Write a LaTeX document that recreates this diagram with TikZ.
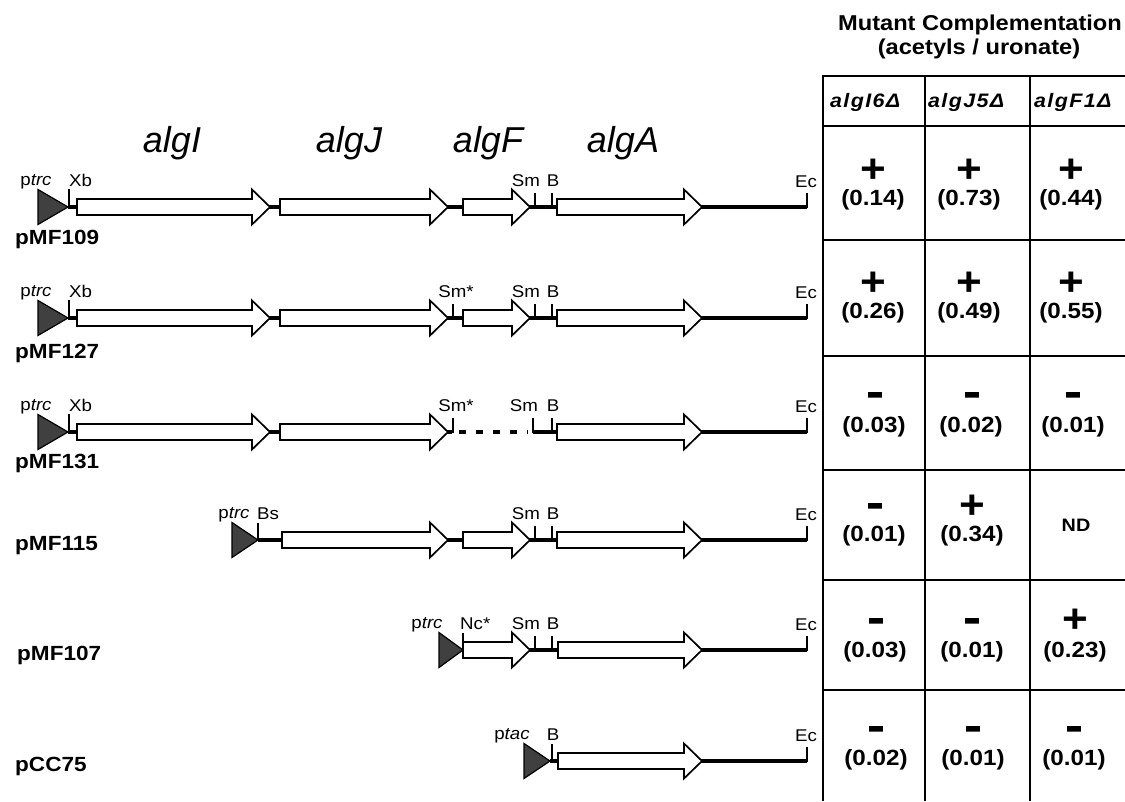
\documentclass[tikz,border=0pt]{standalone}
\usepackage{fontspec}
\usepackage{graphicx}
\setmainfont{Liberation Sans}[FakeStretch=1.1]
\newfontfamily\hdrfont{Liberation Sans}[FakeStretch=1.1,LetterSpace=7]
\newfontfamily\genefont{Liberation Sans}[FakeStretch=1.0]
\newfontfamily\minusfont{Liberation Sans}[BoldFeatures={FakeBold=6}]
\newcommand\genearr[3]{% x1, x2, y
  \draw[genebox] (#1,#3-8) -- (#2-18,#3-8) -- (#2-18,#3-17.5) -- (#2,#3) -- (#2-18,#3+17.5) -- (#2-18,#3+8) -- (#1,#3+8) -- cycle;}
\newcommand\promo[3]{% tip x, y, width
  \draw[promoter] (#1,#2) -- (#1-#3,#2-17.5) -- (#1-#3,#2+17.5) -- cycle;}
\newcommand\rsite[3]{% x, y, height
  \draw[sitetick] (#1,#2+1) -- (#1,#2-#3);}
\tikzset{
  backbone/.style={line width=4.8pt},
  genebox/.style={draw, line width=1.7pt, fill=white, line join=miter},
  promoter/.style={draw, line width=1.2pt, fill=black!75},
  sitetick/.style={line width=1.5pt},
  sitelbl/.style={font=\fontsize{17}{18}\selectfont, inner sep=0pt, anchor=base},
  plasmid/.style={font=\bfseries\fontsize{20.5}{22}\selectfont, anchor=base west, inner sep=0pt},
  genelbl/.style={font=\genefont\itshape\fontsize{36}{38}\selectfont, anchor=base, inner sep=0pt},
  gridline/.style={line width=2.4pt},
  title/.style={font=\bfseries\fontsize{21.5}{24}\selectfont, anchor=base, inner sep=0pt},
  colhdr/.style={font=\hdrfont\bfseries\itshape\fontsize{19.5}{20}\selectfont, anchor=base west, inner sep=0pt},
  sym/.style={font=\bfseries\fontsize{40}{40}\selectfont, inner sep=0pt},
  msym/.style={font=\minusfont\bfseries\fontsize{30}{30}\selectfont, inner sep=0pt},
  val/.style={font=\bfseries\fontsize{22}{24}\selectfont, inner sep=0pt},
  nd/.style={font=\bfseries\fontsize{18}{20}\selectfont, inner sep=0pt}
}
\newcommand\minussign{\raisebox{-7.7pt}[4pt][4pt]{\scalebox{1.45}[1]{-}}}
\begin{document}
\begin{tikzpicture}[x=1pt,y=-1pt]
\useasboundingbox (0,0) rectangle (1125,801);
% ---------- gene labels
\node[genelbl] (gI) at (172,152) {algI};
\node[genelbl] (gJ) at (349,152) {algJ};
\node[genelbl] (gF) at (488,152) {algF};
\node[genelbl] (gA) at (623,152) {algA};
% ---------- row 1 pMF109
\draw[backbone] (68,207) -- (807,207);
\rsite{69}{207}{18}\rsite{535}{207}{14}\rsite{552}{207}{14}\rsite{807}{207}{14}
\genearr{77}{270}{207}\genearr{280}{448}{207}\genearr{463}{530}{207}\genearr{557}{702}{207}
\promo{68}{207}{30}
\node[sitelbl] (p1) at (36,185) {p\textit{trc}};
\node[sitelbl,anchor=base west] (xb1) at (69,186) {Xb};
\node[sitelbl] (sm1) at (526,186) {Sm};
\node[sitelbl] (b1) at (553,186) {B};
\node[sitelbl] (ec1) at (806,187) {Ec};
\node[plasmid] (n1) at (15,244) {pMF109};
% ---------- row 2 pMF127
\draw[backbone] (68,318) -- (807,318);
\rsite{69}{318}{18}\rsite{453}{318}{14}\rsite{535}{318}{14}\rsite{552}{318}{14}\rsite{807}{318}{14}
\genearr{77}{270}{318}\genearr{280}{448}{318}\genearr{463}{530}{318}\genearr{557}{702}{318}
\promo{68}{318}{30}
\node[sitelbl] (p2) at (36,296) {p\textit{trc}};
\node[sitelbl,anchor=base west] (xb2) at (69,297) {Xb};
\node[sitelbl] (sms2) at (456,297) {Sm*};
\node[sitelbl] (sm2) at (526,297) {Sm};
\node[sitelbl] (b2) at (553,297) {B};
\node[sitelbl] (ec2) at (806,298) {Ec};
\node[plasmid] (n2) at (15,358) {pMF127};
% ---------- row 3 pMF131
\draw[backbone] (68,432) -- (452,432);
\draw[line width=3.2pt, dash pattern=on 7pt off 10pt] (459,432) -- (528,432);
\draw[backbone] (533,432) -- (807,432);
\rsite{69}{432}{18}\rsite{453}{432}{14}\rsite{533}{432}{14}\rsite{552}{432}{14}\rsite{807}{432}{14}
\genearr{77}{270}{432}\genearr{280}{448}{432}\genearr{557}{702}{432}
\promo{68}{432}{30}
\node[sitelbl] (p3) at (36,410) {p\textit{trc}};
\node[sitelbl,anchor=base west] (xb3) at (69,411) {Xb};
\node[sitelbl] (sms3) at (456,411) {Sm*};
\node[sitelbl] (sm3) at (524,411) {Sm};
\node[sitelbl] (b3) at (553,411) {B};
\node[sitelbl] (ec3) at (806,412) {Ec};
\node[plasmid] (n3) at (15,468) {pMF131};
% ---------- row 4 pMF115
\draw[backbone] (258,540) -- (807,540);
\rsite{258}{540}{17}\rsite{535}{540}{14}\rsite{552}{540}{14}\rsite{807}{540}{14}
\genearr{282}{448}{540}\genearr{463}{530}{540}\genearr{557}{702}{540}
\promo{258}{540}{26}
\node[sitelbl] (p4) at (234,518) {p\textit{trc}};
\node[sitelbl,anchor=base west] (bs4) at (257,519) {Bs};
\node[sitelbl] (sm4) at (526,519) {Sm};
\node[sitelbl] (b4) at (553,519) {B};
\node[sitelbl] (ec4) at (806,520) {Ec};
\node[plasmid] (n4) at (15,550) {pMF115};
% ---------- row 5 pMF107
\draw[backbone] (463,650) -- (807,650);
\rsite{535}{650}{14}\rsite{552}{650}{14}\rsite{807}{650}{14}
\genearr{463}{530}{650}\genearr{558}{702}{650}
\rsite{463}{650}{17}
\promo{463}{650}{24}
\node[sitelbl] (p5) at (427,628) {p\textit{trc}};
\node[sitelbl,anchor=base west] (nc5) at (460,629) {Nc*};
\node[sitelbl] (sm5) at (526,629) {Sm};
\node[sitelbl] (b5) at (553,629) {B};
\node[sitelbl] (ec5) at (806,630) {Ec};
\node[plasmid] (n5) at (17,660) {pMF107};
% ---------- row 6 pCC75
\draw[backbone] (550,761) -- (807,761);
\rsite{552}{761}{17}\rsite{807}{761}{14}
\genearr{558}{702}{761}
\promo{550}{761}{26}
\node[sitelbl] (p6) at (512,739) {p\textit{tac}};
\node[sitelbl] (b6) at (553,740) {B};
\node[sitelbl] (ec6) at (806,741) {Ec};
\node[plasmid] (n6) at (15,771) {pCC75};
% ---------- table
\node[title] (t1) at (980,30) {Mutant Complementation};
\node[title] (t2) at (979,54) {(acetyls / uronate)};
\draw[gridline] (823,76) -- (1125,76);
\foreach \yy in {126,240,356,470,580,690} \draw[gridline] (823,\yy) -- (1125,\yy);
\foreach \xx in {823,925,1030} \draw[gridline] (\xx,75) -- (\xx,801);
\node[colhdr] (h1) at (830,107) {algI6Δ};
\node[colhdr] (h2) at (928,107) {algJ5Δ};
\node[colhdr] (h3) at (1034,107) {algF1Δ};
% row 1
\node[sym] (s11) at (873,171) {+}; \node[val] (v11) at (873,200) {(0.14)};
\node[sym] (s12) at (969,171) {+}; \node[val] (v12) at (969,200) {(0.73)};
\node[sym] (s13) at (1071,171) {+}; \node[val] (v13) at (1071,200) {(0.44)};
% row 2
\node[sym] (s21) at (873,284) {+}; \node[val] (v21) at (873,313) {(0.26)};
\node[sym] (s22) at (969,284) {+}; \node[val] (v22) at (969,313) {(0.49)};
\node[sym] (s23) at (1071,284) {+}; \node[val] (v23) at (1071,313) {(0.55)};
% row 3
\node[msym] (s31) at (875,395) {\minussign}; \node[val] (v31) at (874,427) {(0.03)};
\node[msym] (s32) at (972,395) {\minussign}; \node[val] (v32) at (971,427) {(0.02)};
\node[msym] (s33) at (1073,395) {\minussign}; \node[val] (v33) at (1073,427) {(0.01)};
% row 4
\node[msym] (s41) at (875,506) {\minussign}; \node[val] (v41) at (874,536) {(0.01)};
\node[sym] (s42) at (972,507) {+}; \node[val] (v42) at (972,536) {(0.34)};
\node[nd] (v43) at (1076,525) {ND};
% row 5
\node[msym] (s51) at (876,621) {\minussign}; \node[val] (v51) at (875,652) {(0.03)};
\node[msym] (s52) at (972,621) {\minussign}; \node[val] (v52) at (972,652) {(0.01)};
\node[sym] (s53) at (1075,621) {+}; \node[val] (v53) at (1075,652) {(0.23)};
% row 6
\node[msym] (s61) at (876,729) {\minussign}; \node[val] (v61) at (876,760) {(0.02)};
\node[msym] (s62) at (973,729) {\minussign}; \node[val] (v62) at (973,760) {(0.01)};
\node[msym] (s63) at (1074,729) {\minussign}; \node[val] (v63) at (1074,760) {(0.01)};
\end{tikzpicture}
\end{document}
